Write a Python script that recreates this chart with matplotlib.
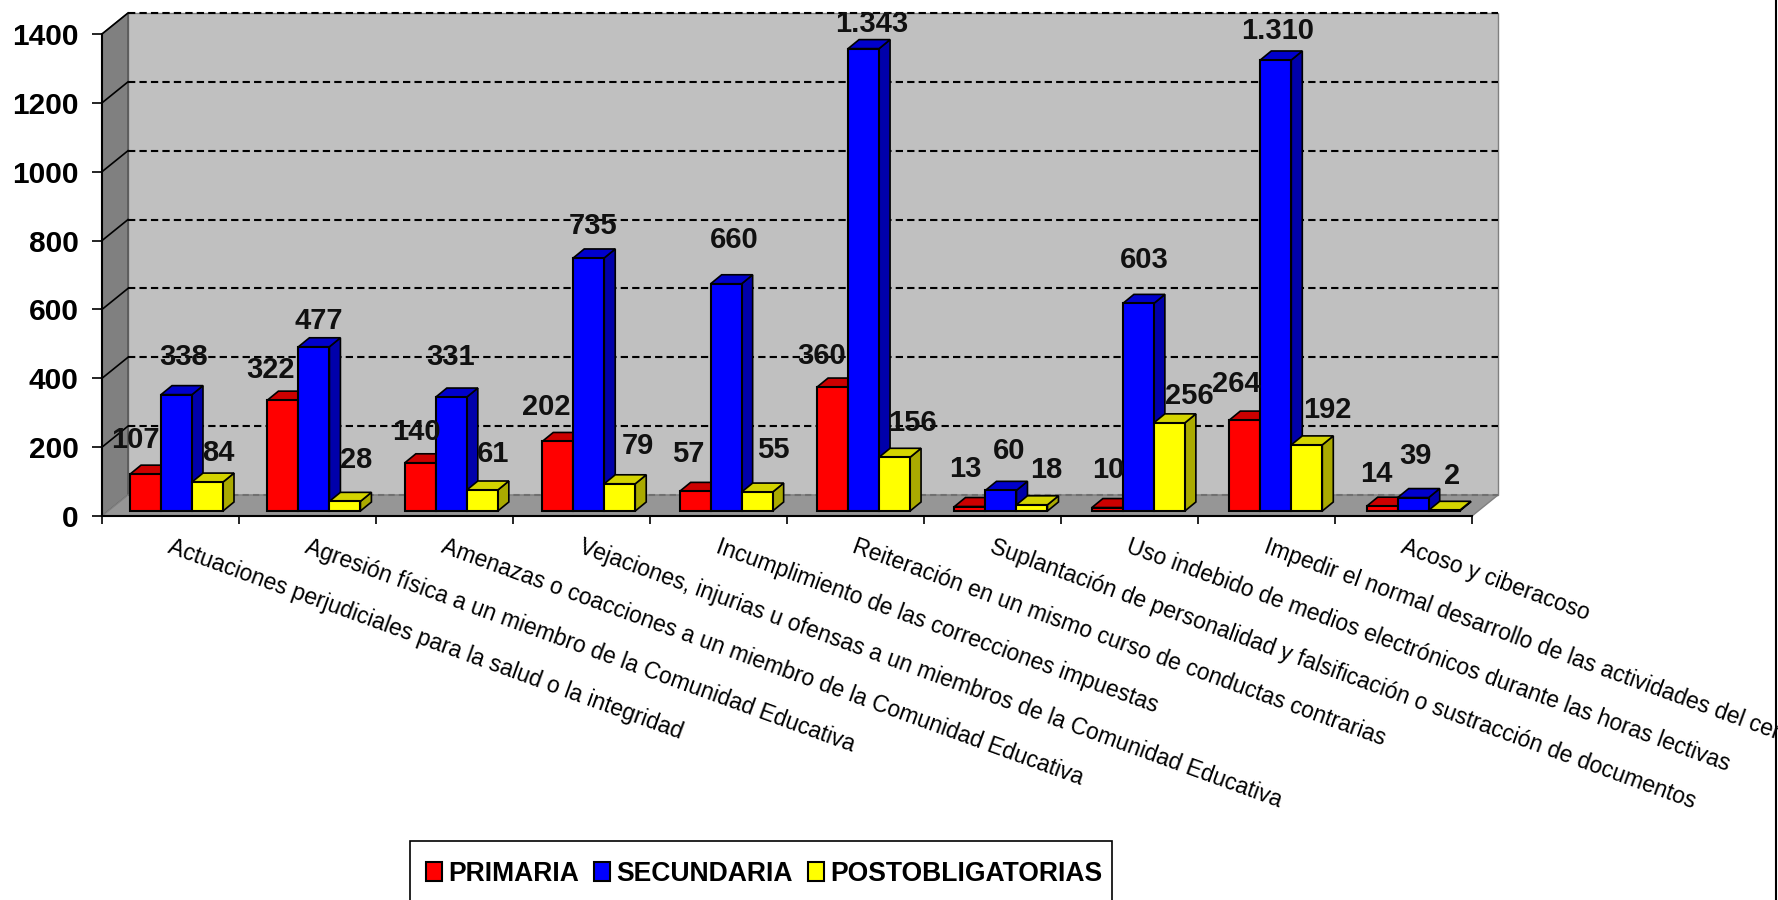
import numpy as np
from matplotlib import pyplot as plt
from matplotlib.patches import Polygon, Patch, Rectangle
from matplotlib.lines import Line2D

plt.rcParams["font.family"] = ["Liberation Sans", "DejaVu Sans"]

categorias = [
    "Actuaciones perjudiciales para la salud o la integridad",
    "Agresión física a un miembro de la Comunidad Educativa",
    "Amenazas o coacciones a un miembro de la Comunidad Educativa",
    "Vejaciones, injurias u ofensas a un miembros de la Comunidad Educativa",
    "Incumplimiento de las correcciones impuestas",
    "Reiteración en un mismo curso de conductas contrarias",
    "Suplantación de personalidad y falsificación o sustracción de documentos",
    "Uso indebido de medios electrónicos durante las horas lectivas",
    "Impedir el normal desarrollo de las actividades del centro",
    "Acoso y ciberacoso",
]
primaria = [107, 322, 140, 202, 57, 360, 13, 10, 264, 14]
secundaria = [338, 477, 331, 735, 660, 1343, 60, 603, 1310, 39]
postobligatorias = [84, 28, 61, 79, 55, 156, 18, 256, 192, 2]
etiquetas_primaria = ["107", "322", "140", "202", "57", "360", "13", "10", "264", "14"]
etiquetas_secundaria = ["338", "477", "331", "735", "660", "1.343", "60", "603", "1.310", "39"]
etiquetas_post = ["84", "28", "61", "79", "55", "156", "18", "256", "192", "2"]

# desplazamiento de cada etiqueta respecto a su barra (px de la imagen reducida)
off_primaria = [(-8.5, 32.5), (-11, 29), (-3, 29.5), (-9, 32), (-5, 35),
                (-7.5, 29), (-2, 35), (3, 35), (-5, 34), (-2, 30)]
off_secundaria = [(6, 35), (5, 25), (0.4, 37.6), (4.6, 30), (9, 41),
                  (9, 23.5), (9, 37), (7.4, 40), (4.6, 27.5), (5, 39)]
off_post = [(9.5, 27.5), (10, 38.5), (10, 33.5), (17, 35), (16, 39),
            (17.5, 32), (15, 32.5), (20, 26), (21, 33), (10, 32)]

series = [
    (primaria, etiquetas_primaria, off_primaria, "#ff0000", "#cc0000", "#aa0000"),
    (secundaria, etiquetas_secundaria, off_secundaria, "#0000ff", "#0000cc", "#0000aa"),
    (postobligatorias, etiquetas_post, off_post, "#ffff00", "#d4d400", "#aaaa00"),
]

W, H = 1778, 900
fig = plt.figure(figsize=(W / 100, H / 100), dpi=100)
ax = fig.add_axes([102 / W, (H - 516) / H, 1370 / W, 482 / H])
ax.set_xlim(0, 10)
ax.set_ylim(0, 1400)
ax.patch.set_visible(False)

px_x = 10 / 1370
px_y = 1400 / 482

# pared, suelo y lateral en perspectiva
dx = 26 * px_x
dy = 21 * px_y
borde = "#808080"
ax.add_patch(Polygon([(dx, dy), (10 + dx, dy), (10 + dx, 1400 + dy), (dx, 1400 + dy)],
                     fc="#c0c0c0", ec=borde, lw=1, clip_on=False, zorder=1))
ax.add_patch(Polygon([(0, 0), (dx, dy), (dx, 1400 + dy), (0, 1400)],
                     fc="#808080", ec="#505050", lw=1, clip_on=False, zorder=1))
ax.add_patch(Polygon([(0, 0), (10, 0), (10 + dx, dy), (dx, dy)],
                     fc="#969696", ec=borde, lw=1, clip_on=False, zorder=1))

for v in range(0, 1600, 200):
    estilo = (0, (3.5, 2)) if v > 0 else (0, (3, 2))
    color = "black" if v > 0 else "#707070"
    ax.plot([dx, 10 + dx], [v + dy, v + dy], color=color, lw=1.5, ls=estilo,
            clip_on=False, zorder=2)
    if v > 0:
        ax.plot([0, dx], [v, v + dy], color="black", lw=1.2, clip_on=False, zorder=2)

# barras
ini = 28 * px_x
ancho = 31 * px_x
paso = 1.003
base = 5 * px_y
fx = 11 * px_x
fy = 9 * px_y
z = 3
for i in range(len(categorias)):
    for j, (vals, labs, offs, c_front, c_top, c_side) in enumerate(series):
        x0 = i * paso + ini + j * ancho
        x1 = x0 + ancho
        y0 = base
        y1 = base + vals[i]
        ax.add_patch(Polygon([(x1, y0), (x1 + fx, y0 + fy), (x1 + fx, y1 + fy), (x1, y1)],
                             fc=c_side, ec="black", lw=1.2, clip_on=False, zorder=z))
        ax.add_patch(Polygon([(x0, y1), (x1, y1), (x1 + fx, y1 + fy), (x0 + fx, y1 + fy)],
                             fc=c_top, ec="black", lw=1.2, clip_on=False, zorder=z))
        ax.add_patch(Polygon([(x0, y0), (x1, y0), (x1, y1), (x0, y1)],
                             fc=c_front, ec="black", lw=1.5, clip_on=False, zorder=z))
        z += 0.01

for i in range(len(categorias)):
    for j, (vals, labs, offs, c_front, c_top, c_side) in enumerate(series):
        xc = i + ini + (j + 0.5) * ancho
        ax.annotate(labs[i], (xc, base + vals[i]),
                    xytext=(offs[i][0] * 1.134 * 0.72, (offs[i][1] - 2) * 1.134 * 0.72),
                    textcoords="offset points", ha="center", va="center",
                    fontsize=21, fontweight="bold", color="#111111",
                    annotation_clip=False, zorder=10)

# ejes
for s in ["top", "right"]:
    ax.spines[s].set_visible(False)
for s in ["left", "bottom"]:
    ax.spines[s].set_linewidth(1.5)
    ax.spines[s].set_zorder(5)

ax.set_yticks(range(0, 1600, 200))
ax.tick_params(axis="y", length=7, width=1.2, pad=10, labelsize=21.5)
for t in ax.get_yticklabels():
    t.set_fontweight("bold")

ax.set_xticks(range(11))
ax.set_xticklabels([])
ax.tick_params(axis="x", which="major", length=6, width=1.2)
ax.set_xticks(np.arange(10) + 0.515, categorias, minor=True)
ax.tick_params(axis="x", which="minor", length=0, pad=14, labelsize=16.5)
for t in ax.get_xticklabels(minor=True):
    t.set_rotation(-20)
    t.set_rotation_mode("anchor")
    t.set_ha("left")
    t.set_va("top")

# leyenda, el marco va aparte porque no es simetrico y se corta abajo
fig.add_artist(Rectangle((410 / W, -0.01), 702 / W, 59 / H + 0.01, fc="white", ec="black",
                         lw=1.2, transform=fig.transFigure))
handles = [Patch(fc="#ff0000", ec="black", lw=1.5),
           Patch(fc="#0000ff", ec="black", lw=1.5),
           Patch(fc="#ffff00", ec="black", lw=1.5)]
leg = fig.legend(handles, ["PRIMARIA", "SECUNDARIA", "POSTOBLIGATORIAS"],
                 ncol=3, loc="lower left", bbox_to_anchor=(408 / W, -5 / H),
                 bbox_transform=fig.transFigure, frameon=False,
                 borderaxespad=0, borderpad=0.68,
                 handlelength=0.6, handleheight=0.75, handletextpad=0.25,
                 columnspacing=0.55, prop={"weight": "bold", "size": 19.1})

# borde derecho de la imagen
fig.add_artist(Line2D([1776 / W, 1776 / W], [0, 1], color="black", lw=1.5))

fig.savefig("out.png", dpi=100)
